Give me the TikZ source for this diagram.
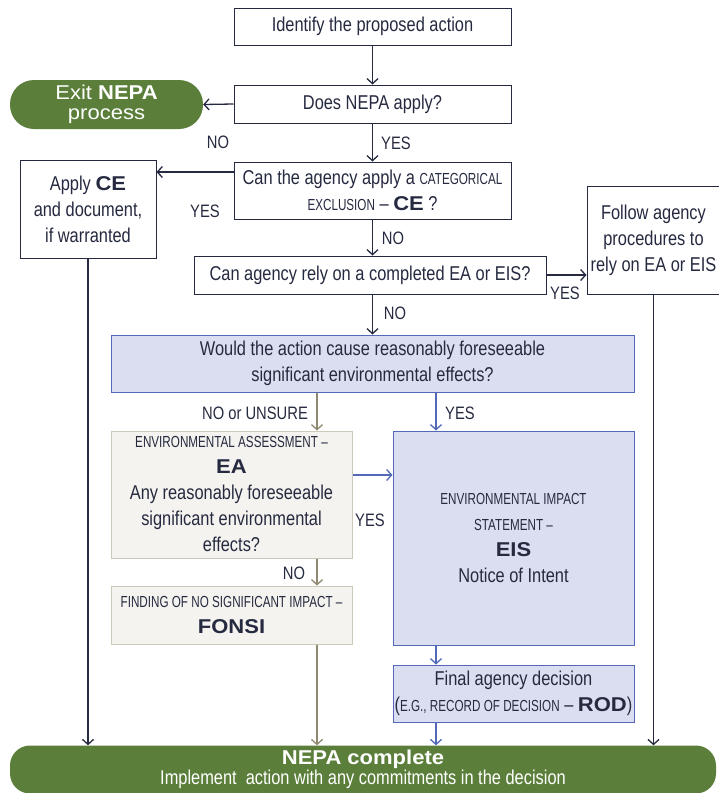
\documentclass[tikz,border=0pt]{standalone}
\usepackage{fontspec}
\setmainfont{Liberation Sans}[FakeStretch=0.82]
\newfontfamily\smfam{Liberation Sans}[FakeStretch=0.73]
\newfontfamily\bdfam{Liberation Sans}[FakeStretch=1.1]
\newfontfamily\widefam{Liberation Sans}[FakeStretch=1.1]
\usetikzlibrary{arrows.meta}
\definecolor{navy}{HTML}{262A40}
\definecolor{nepagreen}{HTML}{5B7F3A}
\definecolor{lav}{HTML}{DADEF0}
\definecolor{bluel}{HTML}{5468B8}
\definecolor{beigef}{HTML}{F4F3EF}
\definecolor{beiged}{HTML}{CDC9BA}
\definecolor{beigea}{HTML}{8E8970}
\newcommand{\smc}[1]{{\smfam\fontsize{16}{26}\selectfont #1}}
\newcommand{\bd}[1]{{\bdfam\bfseries\fontsize{20}{26}\selectfont #1}}
\tikzset{
 base/.style={inner sep=0pt, align=center, text=navy, font=\fontsize{20}{26}\selectfont},
 wbox/.style={base, draw=navy, line width=1pt, fill=white},
 bbox/.style={base, draw=bluel, line width=1pt, fill=lav},
 gbox/.style={base, draw=beiged, line width=1pt, fill=beigef},
 pill/.style={base, fill=nepagreen, text=white},
 arr/.style={-{Straight Barb[length=5pt,width=11pt]}, line width=1.3pt, draw=navy},
 barr/.style={arr, draw=bluel},
 garr/.style={arr, draw=beigea},
 lab/.style={text=navy, font=\fontsize{18}{20}\selectfont, inner sep=0pt}
}
\begin{document}
\begin{tikzpicture}[x=1pt,y=-1pt]
\useasboundingbox (0,0) rectangle (718,793);
\coordinate (yce) at (0,172);
\coordinate (yea) at (0,475);
\coordinate (xb) at (317,0);
\coordinate (xr) at (436,0);

\node[wbox, minimum width=277, minimum height=37] (ident) at (372.5,26.5) {Identify the proposed action};
\node[wbox, minimum width=277, minimum height=38] (nepa) at (372.5,104) {Does NEPA apply?};
\node[pill, minimum width=193, minimum height=49, rounded corners=24pt, font=\widefam\fontsize{20}{20}\selectfont] (exit) at (106.5,104.5) {Exit \textbf{NEPA}\\process};
\node[wbox, minimum width=277, minimum height=57] (ceq) at (372.5,190.5) {Can the agency apply a \smc{CATEGORICAL}\\\smc{EXCLUSION} – \bd{CE} ?};
\node[wbox, minimum width=136, minimum height=98] (apply) at (88,209) {Apply \bd{CE}\\and document,\\if warranted};
\node[wbox, minimum width=352, minimum height=38] (rely) at (370,275) {Can agency rely on a completed EA or EIS?};
\node[wbox, minimum width=133, minimum height=108] (follow) at (653.5,240) {Follow agency\\procedures to\\rely on EA or EIS};
\node[bbox, minimum width=523, minimum height=57] (q) at (372.5,363.5) {Would the action cause reasonably foreseeable\\significant environmental effects?};
\node[gbox, minimum width=241, minimum height=127] (ea) at (231.5,494.5) {\smc{ENVIRONMENTAL ASSESSMENT –}\\\bd{EA}\\Any reasonably foreseeable\\significant environmental\\effects?};
\node[gbox, minimum width=241, minimum height=58] (fonsi) at (231.5,615) {\smc{FINDING OF NO SIGNIFICANT IMPACT –}\\\bd{FONSI}};
\node[bbox, minimum width=241, minimum height=214] (eis) at (513.5,538) {\smc{ENVIRONMENTAL IMPACT}\\\smc{STATEMENT –}\\\bd{EIS}\\Notice of Intent};
\node[bbox, minimum width=241, minimum height=57] (final) at (513.5,693.5) {Final agency decision\\(\smc{E.G., RECORD OF DECISION} – \bd{ROD})};
\node[pill, minimum width=706, minimum height=48, rounded corners=20pt, font=\fontsize{20}{20.5}\selectfont] (done) at (363,769.5) {{\bdfam\bfseries\fontsize{20}{20.5}\selectfont NEPA complete}\\Implement\ \ action with any commitments in the decision};

\draw[arr] (ident.south) -- (nepa.north);
\draw[arr] (nepa.west) -- (exit.east);
\draw[arr] (nepa.south) -- (ceq.north);
\draw[arr] (ceq.west |- yce) -- (apply.east |- yce);
\draw[arr] (ceq.south) -- (ceq.south |- rely.north);
\draw[arr] (rely.east) -- (follow.west |- rely.east);
\draw[arr] (ceq.south |- rely.south) -- (ceq.south |- q.north);
\draw[garr] (q.south -| xb) -- (ea.north -| xb);
\draw[barr] (q.south -| xr) -- (eis.north -| xr);
\draw[barr] (ea.east |- yea) -- (eis.west |- yea);
\draw[garr] (ea.south -| xb) -- (fonsi.north -| xb);
\draw[garr] (fonsi.south -| xb) -- (done.north -| xb);
\draw[barr] (eis.south -| xr) -- (final.north -| xr);
\draw[barr] (final.south -| xr) -- (done.north -| xr);
\draw[arr] (apply.south) -- (done.north -| apply.south);
\draw[arr] (follow.south) -- (done.north -| follow.south);

\node[lab] (l1) at (218,142) {NO};
\node[lab] (l2) at (396,143) {YES};
\node[lab] (l3) at (205,211) {YES};
\node[lab] (l4) at (393,238) {NO};
\node[lab] (l5) at (565,293) {YES};
\node[lab] (l6) at (395,313) {NO};
\node[lab] (l7) at (255,413) {NO or UNSURE};
\node[lab] (l8) at (460,413) {YES};
\node[lab] (l9) at (370,520) {YES};
\node[lab] (l10) at (294,573) {NO};
\end{tikzpicture}
\end{document}
